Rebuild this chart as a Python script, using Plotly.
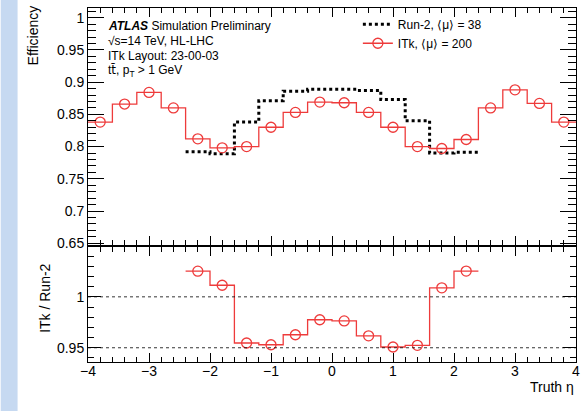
import plotly.graph_objects as go

# Truth-eta binning (0.4 wide bins across |eta| < 4)
itk_centers = [-3.8, -3.4, -3.0, -2.6, -2.2, -1.8, -1.4, -1.0, -0.6, -0.2,
               0.2, 0.6, 1.0, 1.4, 1.8, 2.2, 2.6, 3.0, 3.4, 3.8]
itk_eff = [0.838, 0.866, 0.884, 0.860, 0.812, 0.798, 0.800, 0.830, 0.853, 0.869,
           0.868, 0.853, 0.830, 0.800, 0.797, 0.811, 0.860, 0.888, 0.867, 0.838]

run2_centers = [-2.2, -1.8, -1.4, -1.0, -0.6, -0.2, 0.2, 0.6, 1.0, 1.4, 1.8, 2.2]
run2_eff = [0.792, 0.789, 0.838, 0.871, 0.886, 0.889, 0.889, 0.887, 0.873, 0.840, 0.790, 0.791]

bin_width = 0.4

info_lines = ["<b><i>ATLAS</i></b> Simulation Preliminary",
              "\u221As=14 TeV, HL-LHC",
              "ITk Layout: 23-00-03",
              "t<span style='font-family:DejaVu Sans'>t\u0304</span>, p<sub>T</sub> > 1 GeV"]

RED = "#ee3b3b"
FONT = "Liberation Sans, Arial, sans-serif"


def step_xy(centers, values):
    """Edges and levels for an 'hv' step outline of a histogram."""
    edges = [c - bin_width / 2 for c in centers] + [centers[-1] + bin_width / 2]
    levels = list(values) + [values[-1]]
    return edges, levels


# ratio ITk / Run-2 in the Run-2 acceptance
itk_map = {round(c, 1): v for c, v in zip(itk_centers, itk_eff)}
ratio = [itk_map[round(c, 1)] / v for c, v in zip(run2_centers, run2_eff)]

fig = go.Figure()

# ---- upper panel: efficiencies
rx, ry = step_xy(run2_centers, run2_eff)
fig.add_trace(go.Scatter(x=rx, y=ry, mode="lines", line_shape="hv",
                         line=dict(color="black", width=3, dash="3px,3px"),
                         name="Run-2, \u27e8\u03bc\u27e9 = 38",
                         xaxis="x", yaxis="y"))

ix, iy = step_xy(itk_centers, itk_eff)
fig.add_trace(go.Scatter(x=ix, y=iy, mode="lines", line_shape="hv",
                         line=dict(color=RED, width=1.3),
                         showlegend=False, xaxis="x", yaxis="y"))
fig.add_trace(go.Scatter(x=itk_centers, y=itk_eff, mode="markers",
                         marker=dict(symbol="circle-open", size=10, color=RED,
                                     line=dict(width=1.3, color=RED)),
                         showlegend=False, xaxis="x", yaxis="y"))
# legend entry combining the outline and the marker
fig.add_trace(go.Scatter(x=[None], y=[None], mode="lines+markers",
                         line=dict(color=RED, width=1.3),
                         marker=dict(symbol="circle-open", size=10, color=RED,
                                     line=dict(width=1.3, color=RED)),
                         name="ITk, \u27e8\u03bc\u27e9 = 200",
                         xaxis="x", yaxis="y"))

# ---- lower panel: ratio
qx, qy = step_xy(run2_centers, ratio)
fig.add_trace(go.Scatter(x=qx, y=qy, mode="lines", line_shape="hv",
                         line=dict(color=RED, width=1.3),
                         showlegend=False, xaxis="x2", yaxis="y2"))
fig.add_trace(go.Scatter(x=run2_centers, y=ratio, mode="markers",
                         marker=dict(symbol="circle-open", size=10, color=RED,
                                     line=dict(width=1.3, color=RED)),
                         showlegend=False, xaxis="x2", yaxis="y2"))

axis_common = dict(showline=True, linecolor="black", linewidth=1, mirror="ticks",
                   ticks="inside", tickcolor="black", showgrid=False, zeroline=False,
                   tickfont=dict(family=FONT, size=14, color="black"))

fig.update_layout(
    width=587, height=411,
    margin=dict(l=88, r=7, t=8, b=49),
    paper_bgcolor="white", plot_bgcolor="white",
    font=dict(family=FONT, color="black"),
    xaxis=dict(axis_common, domain=[0, 1], range=[-4, 4], anchor="y",
               dtick=1, ticklen=9, showticklabels=False,
               minor=dict(ticks="inside", dtick=0.2, ticklen=5, tickcolor="black")),
    yaxis=dict(axis_common, domain=[0.33, 1], range=[0.647, 1.015], anchor="x",
               tickvals=[0.65, 0.7, 0.75, 0.8, 0.85, 0.9, 0.95, 1.0],
               ticktext=["0.65", "0.7", "0.75", "0.8", "0.85", "0.9", "0.95", "1"],
               ticklen=16,
               minor=dict(ticks="inside", dtick=0.01, ticklen=8, tickcolor="black")),
    xaxis2=dict(axis_common, domain=[0, 1], range=[-4, 4], anchor="y2",
                dtick=1, ticklen=9, tickformat="d", ticklabelstandoff=-4,
                minor=dict(ticks="inside", dtick=0.2, ticklen=5, tickcolor="black")),
    yaxis2=dict(axis_common, domain=[0, 0.325], range=[0.936, 1.049], anchor="x2",
                tickvals=[0.95, 1.0], ticktext=["0.95", "1"], ticklen=13,
                minor=dict(ticks="inside", dtick=0.01, ticklen=6, tickcolor="black")),
    legend=dict(x=0.553, y=0.995, xanchor="left", yanchor="top",
                bgcolor="rgba(0,0,0,0)", borderwidth=0,
                font=dict(family=FONT, size=12, color="black"),
                itemwidth=30, tracegroupgap=0),
    showlegend=True,
)

# reference lines in the ratio panel
for yv in (1.0, 0.95):
    fig.add_shape(type="line", xref="x2 domain", yref="y2", x0=0, x1=1, y0=yv, y1=yv,
                  line=dict(color="black", width=0.8, dash="dot"))

# left-side banner
fig.add_shape(type="rect", xref="paper", yref="paper",
              x0=-88 / 492, x1=(17 - 88) / 492, y0=-49 / 354, y1=1 + 8 / 354,
              fillcolor="#c6d9f1", line=dict(width=0), layer="below")

# info block
for i, line in enumerate(info_lines):
    fig.add_annotation(x=0.037, y=1 - (26 + 15 * i - 8) / 354, xref="paper", yref="paper",
                       text=line, showarrow=False, xanchor="left", yanchor="middle",
                       font=dict(family=FONT, size=12, color="black"))

# axis titles
fig.add_annotation(x=(33 - 88) / 492, y=1 + 5 / 354, xref="paper", yref="paper",
                   text="Efficiency", textangle=-90, showarrow=False,
                   xanchor="center", yanchor="top",
                   font=dict(family=FONT, size=14, color="black"))
fig.add_annotation(x=(44 - 88) / 492, y=1 - (262 - 8) / 354, xref="paper", yref="paper",
                   text="ITk / Run-2", textangle=-90, showarrow=False,
                   xanchor="center", yanchor="top",
                   font=dict(family=FONT, size=14, color="black"))
fig.add_annotation(x=1, y=-(387 - 362) / 354, xref="paper", yref="paper",
                   text="Truth \u03b7", showarrow=False, xanchor="right", yanchor="middle",
                   font=dict(family=FONT, size=14, color="black"))

fig.write_html("out.html")
